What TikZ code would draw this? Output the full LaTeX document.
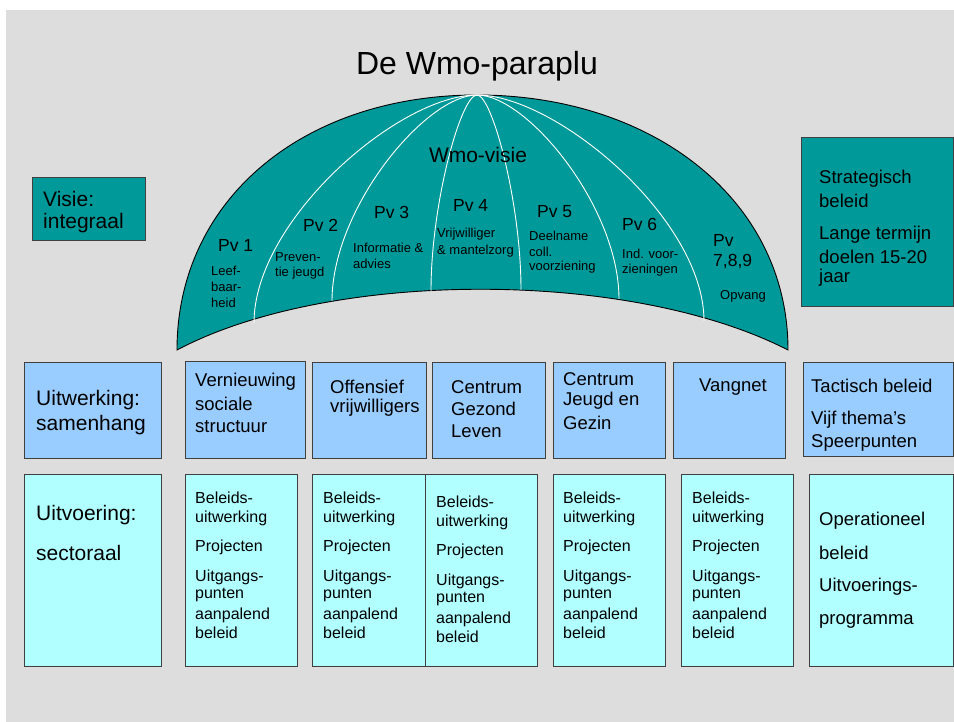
\documentclass[tikz,border=0pt]{standalone}
\usepackage{fontspec}
\setmainfont{Liberation Sans}
\definecolor{bgc}{HTML}{DDDDDD}
\definecolor{tealc}{HTML}{009999}
\definecolor{bluec}{HTML}{99CCFF}
\definecolor{cyanc}{HTML}{B2FFFF}
\definecolor{edgec}{HTML}{404040}
\newcommand\fs[1]{\fontsize{#1}{#1}\selectfont}
\begin{document}
\begin{tikzpicture}[x=1pt,y=-1pt,
  lbl/.style={anchor=west,inner sep=0pt},
  clbl/.style={anchor=center,inner sep=0pt},
  boxs/.style={draw=edgec,line width=0.8pt,inner sep=0pt},
  tealbox/.style={boxs,fill=tealc},
  bluebox/.style={boxs,fill=bluec},
  cyanbox/.style={boxs,fill=cyanc},
  meridian/.style={draw=white,line width=0.9pt},
  tB/.style={font=\fs{32}},
  tM/.style={font=\fs{21}},
  tP/.style={font=\fs{17.5}},
  tS/.style={font=\fs{13}},
  tR/.style={font=\fs{18.5}},
  tC/.style={font=\fs{16}}]
\useasboundingbox (0,0) rectangle (954,722);
\fill[white] (0,0) rectangle (954,722);
\fill[bgc] (6,10) rectangle (954,722);

% title
\node[tB,clbl] (title) at (477,66) {De Wmo-paraplu};

% dome
\coordinate (apex) at (477,95);
\coordinate (dl) at (177,350);
\coordinate (dr) at (788,350);
\filldraw[fill=tealc,draw=black,line width=0.9pt]
  (dl) .. controls (177,200) and (303,95) .. (apex)
       .. controls (653,95) and (788,200) .. (dr)
       .. controls (630,269) and (330,269) .. (dl) -- cycle;
\coordinate (m1) at (254,323);
\coordinate (m2) at (332,301);
\coordinate (m3) at (431,291);
\coordinate (m4) at (521,290);
\coordinate (m5) at (619,299);
\coordinate (m6) at (704,321);
\draw[meridian] (apex) .. controls (399,95) and (254,220) .. (m1);
\draw[meridian] (apex) .. controls (426,95) and (332,208) .. (m2);
\draw[meridian] (apex) .. controls (461,95) and (431,203) .. (m3);
\draw[meridian] (apex) .. controls (492,95) and (521,202) .. (m4);
\draw[meridian] (apex) .. controls (527,95) and (619,207) .. (m5);
\draw[meridian] (apex) .. controls (556,95) and (704,219) .. (m6);

\node[tM,clbl] (visie) at (478,155) {Wmo-visie};
\node[tP,lbl] (pv1) at (218,245) {Pv 1};
\node[tP,lbl] (pv2) at (303,225) {Pv 2};
\node[tP,lbl] (pv3) at (374,212) {Pv 3};
\node[tP,lbl] (pv4) at (453,205) {Pv 4};
\node[tP,lbl] (pv5) at (537,212) {Pv 5};
\node[tP,lbl] (pv6) at (622,224) {Pv 6};
\node[tP,lbl] (pv7a) at (713,240) {Pv};
\node[tP,lbl] (pv7b) at (713,262) {7,8,9};

\node[tS,lbl] (s1a) at (211,271) {Leef-};
\node[tS,lbl] (s1b) at (211,287) {baar-};
\node[tS,lbl] (s1c) at (211,303) {heid};
\node[tS,lbl] (s2a) at (275,257) {Preven-};
\node[tS,lbl] (s2b) at (275,273) {tie jeugd};
\node[tS,lbl] (s3a) at (353,248) {Informatie \&};
\node[tS,lbl] (s3b) at (353,264) {advies};
\node[tS,lbl] (s4a) at (437,234) {Vrijwilliger};
\node[tS,lbl] (s4b) at (437,251) {\& mantelzorg};
\node[tS,lbl] (s5a) at (529,236) {Deelname};
\node[tS,lbl] (s5b) at (529,252) {coll.};
\node[tS,lbl] (s5c) at (529,267) {voorziening};
\node[tS,lbl] (s6a) at (622,254) {Ind. voor-};
\node[tS,lbl] (s6b) at (622,270) {zieningen};
\node[tS,lbl] (s7a) at (720,296) {Opvang};

% side teal boxes
\node[tealbox,minimum width=113,minimum height=63] (vis) at (88.5,208.5) {};
\node[tM,lbl] at (43,199) {Visie:};
\node[tM,lbl] at (43,223) {integraal};
\node[tealbox,minimum width=152,minimum height=169] (strat) at (877,221.5) {};
\node[tR,lbl] at (819,179) {Strategisch};
\node[tR,lbl] at (819,201) {beleid};
\node[tR,lbl] at (819,235) {Lange termijn};
\node[tR,lbl] at (819,257) {doelen 15-20};
\node[tR,lbl] at (819,278) {jaar};

% row 2
\node[bluebox,minimum width=137,minimum height=96] (r2a) at (92.5,410) {};
\node[bluebox,minimum width=120,minimum height=97] (r2b) at (245,409.5) {};
\node[bluebox,minimum width=114,minimum height=96] (r2c) at (369,410) {};
\node[bluebox,minimum width=113,minimum height=96] (r2d) at (488.5,410) {};
\node[bluebox,minimum width=112,minimum height=96] (r2e) at (609,410) {};
\node[bluebox,minimum width=112,minimum height=96] (r2f) at (729,410) {};
\node[bluebox,minimum width=150,minimum height=94] (r2g) at (878,409) {};
\node[tM,lbl] at (36,400) {Uitwerking:};
\node[tM,lbl] at (36,425) {samenhang};
\node[tR,lbl] at (195,382) {Vernieuwing};
\node[tR,lbl] at (195,404) {sociale};
\node[tR,lbl] at (195,427) {structuur};
\node[tR,lbl] at (330,387) {Offensief};
\node[tR,lbl] at (330,408) {vrijwilligers};
\node[tR,lbl] at (451,387) {Centrum};
\node[tR,lbl] at (451,409) {Gezond};
\node[tR,lbl] at (451,431) {Leven};
\node[tR,lbl] at (563,379) {Centrum};
\node[tR,lbl] at (563,401) {Jeugd en};
\node[tR,lbl] at (563,423) {Gezin};
\node[tR,clbl] at (733,387) {Vangnet};
\node[tR,lbl] at (811,386) {Tactisch beleid};
\node[tR,lbl] at (811,420) {Vijf thema’s};
\node[tR,lbl] at (811,443) {Speerpunten};

% row 3
\node[cyanbox,minimum width=137,minimum height=192] (r3a) at (92.5,570) {};
\node[cyanbox,minimum width=112,minimum height=192] (r3b) at (241,570) {};
\node[cyanbox,minimum width=113,minimum height=192] (r3c) at (368.5,570) {};
\node[cyanbox,minimum width=112,minimum height=192] (r3d) at (481,570) {};
\node[cyanbox,minimum width=112,minimum height=192] (r3e) at (609,570) {};
\node[cyanbox,minimum width=112,minimum height=192] (r3f) at (737,570) {};
\node[cyanbox,minimum width=144,minimum height=192] (r3g) at (881,570) {};
\node[tM,lbl] at (36,515) {Uitvoering:};
\node[tM,lbl] at (36,553) {sectoraal};
\foreach \cx/\dy in {195/0,323/0,436/4,563/0,692/0}{
  \foreach \yy/\tt in {498/Beleids-,518/uitwerking,547/Projecten,577/Uitgangs-,595/punten,615/aanpalend,633/beleid}{
    \node[tC,lbl] at (\cx,\yy+\dy) {\tt};
  }
}
\node[tR,lbl] at (819,521) {Operationeel};
\node[tR,lbl] at (819,553) {beleid};
\node[tR,lbl] at (819,587) {Uitvoerings-};
\node[tR,lbl] at (819,621) {programma};
\end{tikzpicture}
\end{document}
